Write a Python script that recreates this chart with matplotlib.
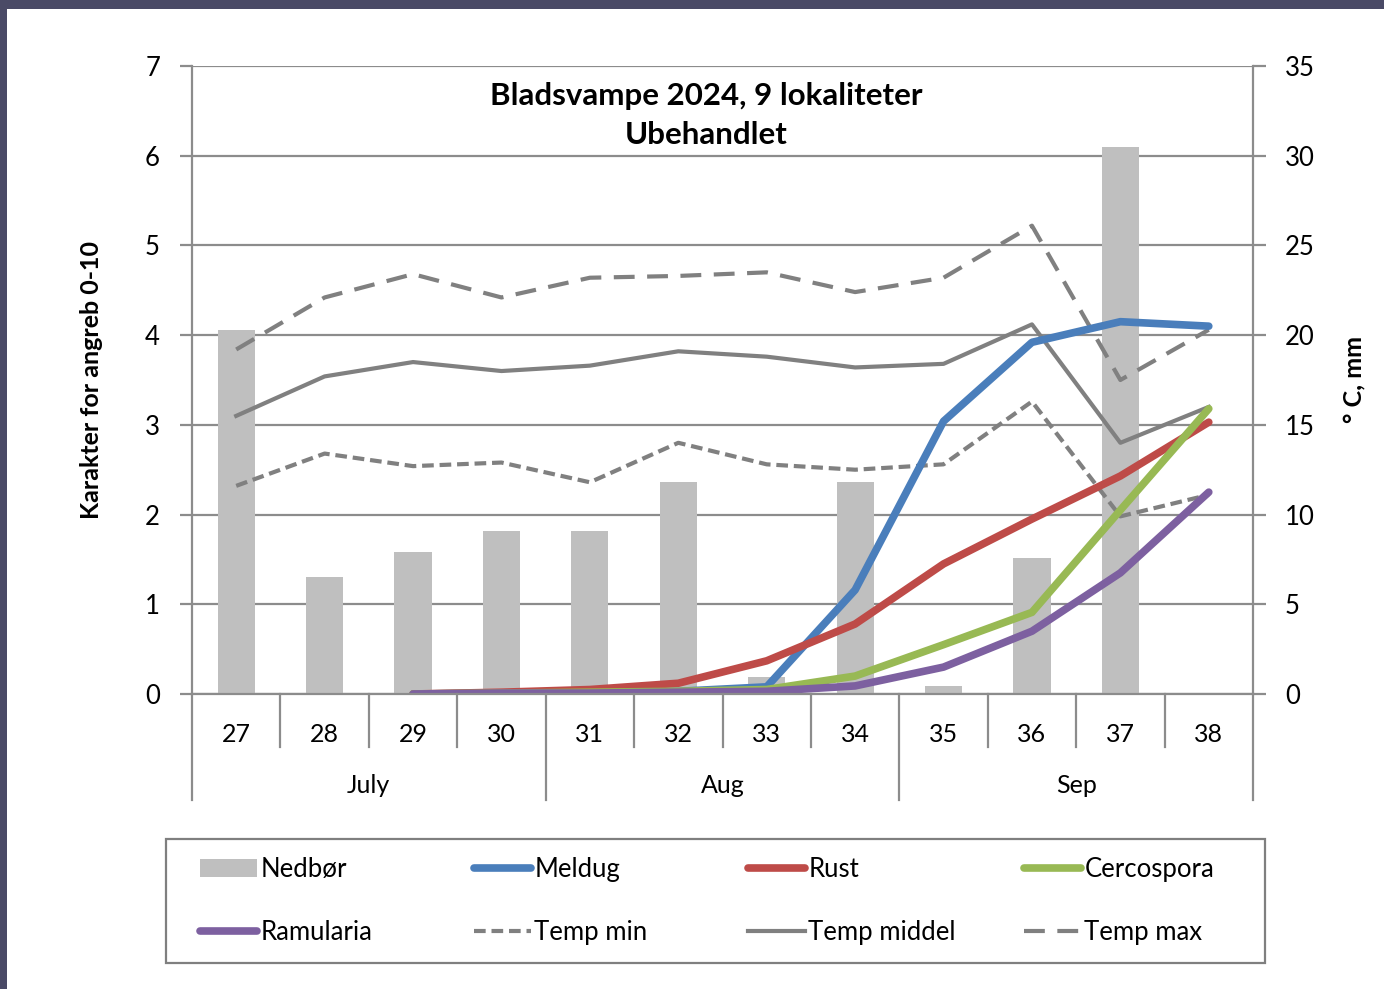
import matplotlib
matplotlib.use("Agg")
import matplotlib.pyplot as plt
from matplotlib.patches import Rectangle, Patch
from matplotlib.lines import Line2D
from matplotlib.transforms import blended_transform_factory

plt.rcParams["font.family"] = ["Lato", "DejaVu Sans"]

# data
weeks = ["27", "28", "29", "30", "31", "32", "33", "34", "35", "36", "37", "38"]
months = ["July", "Aug", "Sep"]
weeks_per_month = [4, 4, 4]

nedboer = [20.3, 6.5, 7.9, 9.1, 9.1, 11.8, 0.95, 11.8, 0.45, 7.6, 30.5, 0.05]
temp_min = [11.6, 13.4, 12.7, 12.9, 11.8, 14.0, 12.8, 12.5, 12.8, 16.3, 9.9, 11.1]
temp_middel = [15.5, 17.7, 18.5, 18.0, 18.3, 19.1, 18.8, 18.2, 18.4, 20.6, 14.0, 16.0]
temp_max = [19.2, 22.1, 23.4, 22.1, 23.2, 23.3, 23.5, 22.4, 23.2, 26.1, 17.5, 20.3]

# disease scores start at week 29
meldug = [0.0, 0.01, 0.02, 0.03, 0.08, 1.16, 3.04, 3.92, 4.15, 4.10]
rust = [0.0, 0.02, 0.05, 0.12, 0.37, 0.78, 1.45, 1.95, 2.43, 3.03]
cercospora = [0.0, 0.01, 0.02, 0.03, 0.05, 0.20, 0.55, 0.91, 2.05, 3.18]
ramularia = [0.0, 0.01, 0.01, 0.02, 0.03, 0.09, 0.30, 0.70, 1.35, 2.25]

GRID = "#8c8c8c"
GREY_LINE = "#808080"
BAR = "#bfbfbf"
BLUE, RED, GREEN, PURPLE = "#4a7ebb", "#be4b48", "#98b954", "#7d60a0"
MIN_DASH = (0, (2.8, 1.4))
MAX_DASH = (0, (5, 3))
W, H = 1384, 989

fig = plt.figure(figsize=(W / 100, H / 100), dpi=100, facecolor="#4a4a66")
fig.patches.append(Rectangle((7 / W, 0), 1, 1 - 9 / H, transform=fig.transFigure,
                             facecolor="white", edgecolor="none", zorder=-5))

ax = fig.add_axes([192 / W, 1 - 694 / H, (1253 - 192) / W, (694 - 66) / H])
ax2 = ax.twinx()
ax.set_zorder(ax2.get_zorder() + 1)
ax.patch.set_visible(False)

x = list(range(len(weeks)))
xd = list(range(2, len(weeks)))

# right axis: precipitation and temperatures
ax2.bar(x, nedboer, width=0.42, color=BAR, zorder=2)
ax2.plot(x, temp_min, color=GREY_LINE, lw=3, ls=MIN_DASH, zorder=3)
ax2.plot(x, temp_middel, color=GREY_LINE, lw=3, zorder=3)
ax2.plot(x, temp_max, color=GREY_LINE, lw=3, ls=MAX_DASH, zorder=3)
ax2.set_ylim(0, 35)
ax2.set_yticks(range(0, 36, 5))
ax2.yaxis.grid(True, color=GRID, lw=1.6, zorder=0)
ax2.set_axisbelow(True)

# left axis: disease scores
ax.plot(xd, meldug, color=BLUE, lw=5.5, solid_capstyle="round")
ax.plot(xd, rust, color=RED, lw=5.5, solid_capstyle="round")
ax.plot(xd, cercospora, color=GREEN, lw=5.5, solid_capstyle="round")
ax.plot(xd, ramularia, color=PURPLE, lw=5.5, solid_capstyle="round")
ax.set_ylim(0, 7)
ax.set_yticks(range(0, 8))
ax.set_xlim(-0.5, len(weeks) - 0.5)

for a in (ax, ax2):
    for s in a.spines.values():
        s.set_visible(False)
    a.tick_params(axis="y", length=9, width=1.6, color=GRID, labelsize=18.5, pad=14)
for side in ("left", "right", "bottom"):
    ax.spines[side].set_visible(True)
    ax.spines[side].set_color(GRID)
    ax.spines[side].set_linewidth(1.6)

ax.set_xticks(x)
ax.set_xticklabels(weeks, fontsize=18)
ax.tick_params(axis="x", length=0, pad=21)

# multi-level category axis
tr = blended_transform_factory(ax.transData, ax.transAxes)
for i in range(len(weeks) + 1):
    boundary = i - 0.5
    low = -0.169 if i % 4 == 0 else -0.084
    ax.plot([boundary, boundary], [0, low], color=GRID, lw=1.6, transform=tr, clip_on=False)
start = 0
for m, n in zip(months, weeks_per_month):
    ax.text(start + (n - 1) / 2, -0.145, m, transform=tr, ha="center", va="center", fontsize=18)
    start += n

ax.set_ylabel("Karakter for angreb 0-10", fontsize=18, fontweight="bold", labelpad=30)
ax2.set_ylabel("° C, mm", fontsize=18, fontweight="bold", rotation=90, labelpad=20)

ax.text(0.485, 0.975, "Bladsvampe 2024, 9 lokaliteter\nUbehandlet", transform=ax.transAxes,
        ha="center", va="top", fontsize=22.5, fontweight="bold", linespacing=1.5)

# legend: four columns of two entries each inside one frame
columns = [
    ([Patch(facecolor=BAR, edgecolor="none"),
      Line2D([], [], color=PURPLE, lw=5.5, solid_capstyle="round")], ["Nedbør", "Ramularia"]),
    ([Line2D([], [], color=BLUE, lw=5.5, solid_capstyle="round"),
      Line2D([], [], color=GREY_LINE, lw=3, ls=MIN_DASH)], ["Meldug", "Temp min"]),
    ([Line2D([], [], color=RED, lw=5.5, solid_capstyle="round"),
      Line2D([], [], color=GREY_LINE, lw=3)], ["Rust", "Temp middel"]),
    ([Line2D([], [], color=GREEN, lw=5.5, solid_capstyle="round"),
      Line2D([], [], color=GREY_LINE, lw=3, ls=MAX_DASH)], ["Cercospora", "Temp max"]),
]
col_left = [200, 474, 748, 1024]
for (hs, ls), cx in zip(columns, col_left):
    fig.legend(hs, ls, loc="center left", bbox_to_anchor=(cx / W, 1 - 901 / H),
               fontsize=18.5, frameon=False, handlelength=2.2, handletextpad=0.15,
               labelspacing=1.5, borderaxespad=0, borderpad=0)
fig.patches.append(Rectangle((166 / W, 1 - 963 / H), (1265 - 166) / W, (963 - 839) / H,
                             transform=fig.transFigure, facecolor="none",
                             edgecolor="#7f7f7f", lw=1.6))

fig.savefig("out.png", dpi=100, facecolor=fig.get_facecolor())
